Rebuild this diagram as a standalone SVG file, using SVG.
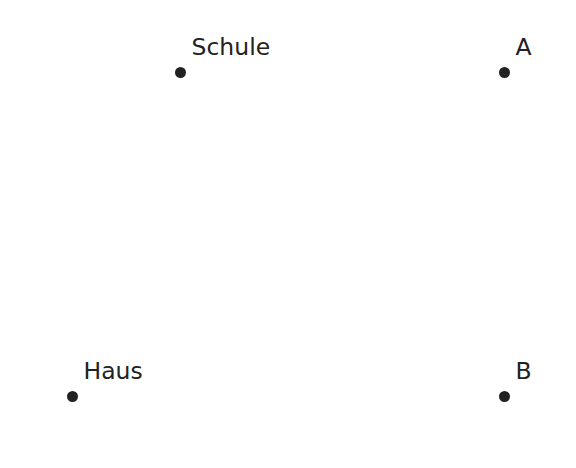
<svg xmlns="http://www.w3.org/2000/svg" width="576" height="468" viewBox="0 0 576 468">
<style>
.pt{fill:#222222}
.lb{font-family:"DejaVu Sans",sans-serif;font-size:23.5px;fill:#222222}
</style>
<rect width="576" height="468" fill="#ffffff"/>
<g id="connectors"></g>
<g id="schule"><circle class="pt" cx="180.5" cy="72.5" r="5.5"/><text class="lb" x="191.5" y="55">Schule</text></g>
<g id="a"><circle class="pt" cx="504.5" cy="72.5" r="5.5"/><text class="lb" x="515.5" y="55">A</text></g>
<g id="haus"><circle class="pt" cx="72.5" cy="396.5" r="5.5"/><text class="lb" x="83.5" y="379">Haus</text></g>
<g id="b"><circle class="pt" cx="504.5" cy="396.5" r="5.5"/><text class="lb" x="515.5" y="379">B</text></g>
</svg>
